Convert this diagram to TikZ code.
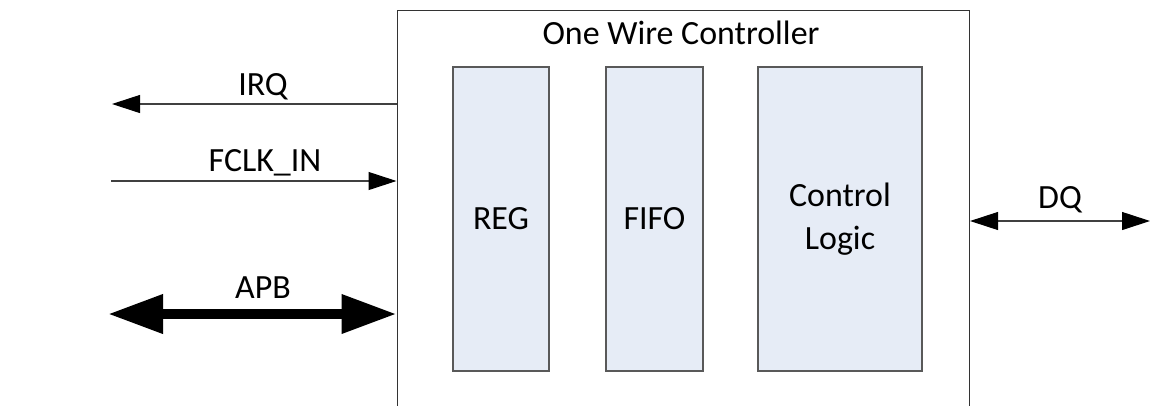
\documentclass[tikz,border=0pt]{standalone}
\usepackage{fontspec}
\setmainfont{Carlito}
\usetikzlibrary{arrows.meta}
\definecolor{blockfill}{RGB}{230,236,246}
\begin{document}
\begin{tikzpicture}[
  blk/.style={draw=black!65, fill=blockfill, line width=0.8pt, minimum width=#1, minimum height=6.08cm, align=center, inner sep=0pt},
  sig/.style={draw=black!75, line width=0.6pt},
  tip/.style={-{Triangle[length=0.56cm,width=0.36cm,color=black]}},
  every node/.style={font=\fontsize{19.3}{24.5}\selectfont}
]
\useasboundingbox (0,0) rectangle (23,-8.1);
\node[draw=black!80, line width=0.6pt, minimum width=11.45cm, minimum height=8.6cm, anchor=north west, inner sep=0pt] (owc) at (7.93,-0.2) {};
\node (title) at (13.62,-0.66) {One Wire Controller};
\node[blk=1.92cm] (reg) at (10.02,-4.38) {REG};
\node[blk=1.94cm] (fifo) at (13.09,-4.38) {FIFO};
\node[blk=3.28cm] (ctrl) at (16.80,-4.38) {Control\\Logic};
% left side signals
\coordinate (irqout) at (2.24,-2.08);
\coordinate (fclkin) at (2.22,-3.62);
\coordinate (apbend) at (2.16,-6.28);
\draw[sig, tip] (irqout -| owc.west) -- (irqout);
\draw[sig, tip] (fclkin) -- (fclkin -| owc.west);
\draw[line width=0.2cm, {Triangle[length=1.1cm,width=0.74cm]}-{Triangle[length=1.1cm,width=0.74cm]}] (apbend) -- (apbend -| owc.west);
\node (irq) at (5.26,-1.74) {IRQ};
\node (fclk) at (5.30,-3.26) {FCLK\_IN};
\node (apb) at (5.26,-5.76) {APB};
% right side
\coordinate (dqend) at (23,-4.42);
\draw[sig, {Triangle[length=0.56cm,width=0.36cm,color=black]}-{Triangle[length=0.56cm,width=0.36cm,color=black]}] (dqend -| owc.east) -- (dqend);
\node (dq) at (21.20,-4.00) {DQ};
\end{tikzpicture}
\end{document}
